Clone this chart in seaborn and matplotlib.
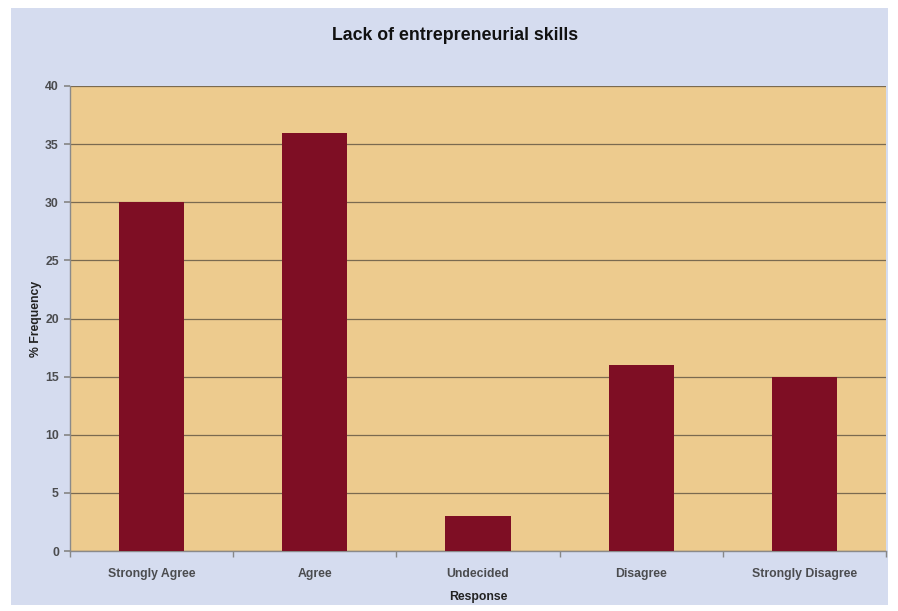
import matplotlib
matplotlib.use("Agg")
import matplotlib.pyplot as plt
from matplotlib.patches import Rectangle
import numpy as np
import pandas as pd
import seaborn as sns

responses = ["Strongly Agree", "Agree", "Undecided", "Disagree", "Strongly Disagree"]
frequency = [30, 36, 3, 16, 15]
y_ticks = [0, 5, 10, 15, 20, 25, 30, 35, 40]

sns.set_theme(style="white")
plt.rcParams["font.family"] = ["Liberation Sans", "DejaVu Sans"]

fig = plt.figure(figsize=(8.98, 6.11), dpi=100)
fig.patch.set_facecolor("white")
# chart area panel behind the axes
fig.patches.append(Rectangle((11 / 898, 6 / 611), 877 / 898, 597 / 611,
                             transform=fig.transFigure, facecolor="#d5dcef",
                             edgecolor="none", zorder=-10))

ax = fig.add_axes([70 / 898, 60 / 611, 816 / 898, 465 / 611])
ax.set_zorder(1)
ax.set_facecolor("#edcb8e")

df = pd.DataFrame({"Response": responses, "Frequency": frequency})
sns.barplot(data=df, x="Response", y="Frequency", color="#7e0e24",
            width=0.4, saturation=1, linewidth=0, ax=ax, zorder=3)

ax.set_ylim(0, 40)
ax.set_xlim(-0.5, len(responses) - 0.5)
ax.set_yticks(y_ticks)
ax.yaxis.grid(True, color="#7a6a50", linewidth=0.9, zorder=1)
ax.set_axisbelow(True)

ax.set_xticks(np.arange(-0.5, len(responses)), minor=True)
ax.tick_params(axis="x", which="major", length=0, pad=12, labelsize=8.8, labelcolor="#333333")
ax.tick_params(axis="x", which="minor", length=4, color="#888888", direction="out", bottom=True)
ax.tick_params(axis="y", length=4, color="#888888", direction="out", labelsize=8.8,
               labelcolor="#333333", pad=4, left=True)
for lbl in ax.get_xticklabels() + ax.get_yticklabels():
    lbl.set_fontweight("bold")
    lbl.set_alpha(0.85)

for side in ["top", "right"]:
    ax.spines[side].set_visible(False)
for side in ["left", "bottom"]:
    ax.spines[side].set_color("#8a8a8a")
    ax.spines[side].set_linewidth(1.0)

ax.set_xlabel("Response", fontsize=8.8, fontweight="bold", color="#222222", labelpad=8)
ax.set_ylabel("% Frequency", fontsize=8.8, fontweight="bold", color="#222222", labelpad=2)

fig.text(455 / 898, 1 - 35 / 611, "Lack of entrepreneurial skills", ha="center", va="center",
         fontsize=12.8, fontweight="bold", color="#111111")

fig.savefig("out.png", dpi=100)
